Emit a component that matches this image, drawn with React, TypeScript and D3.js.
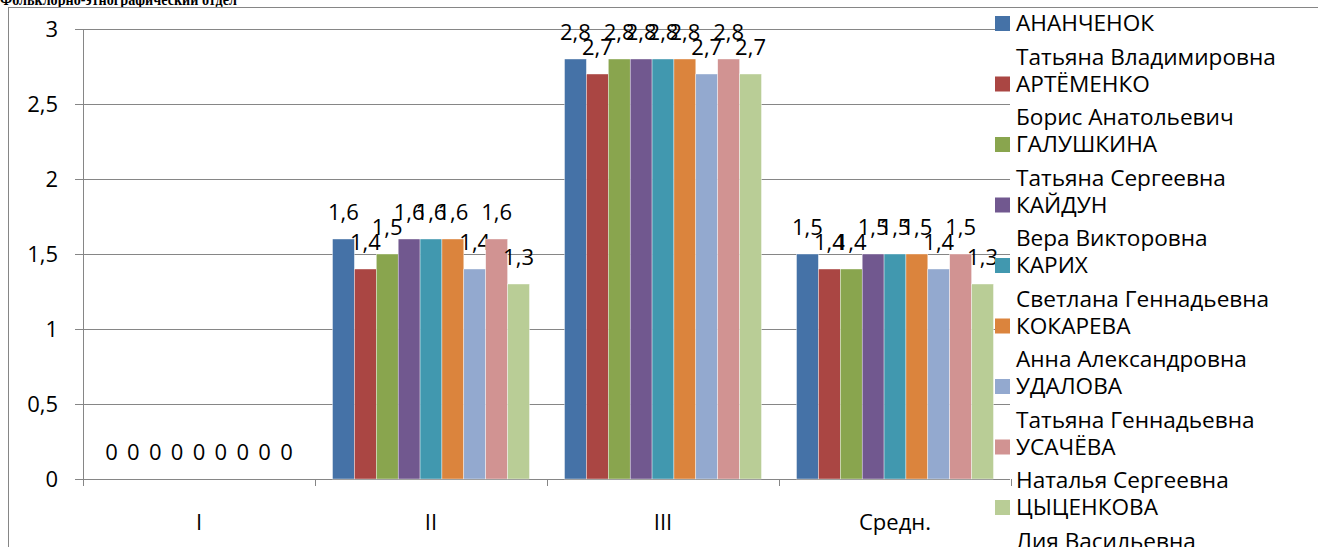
import * as d3 from 'd3';
import * as React from 'react';

const categories = ['I', 'II', 'III', 'Средн.'];
const surnames = ['АНАНЧЕНОК', 'АРТЁМЕНКО', 'ГАЛУШКИНА', 'КАЙДУН', 'КАРИХ', 'КОКАРЕВА', 'УДАЛОВА', 'УСАЧЁВА', 'ЦЫЦЕНКОВА'];
const givenNames = ['Татьяна Владимировна', 'Борис Анатольевич', 'Татьяна Сергеевна', 'Вера Викторовна', 'Светлана Геннадьевна', 'Анна Александровна', 'Татьяна Геннадьевна', 'Наталья Сергеевна', 'Лия Васильевна'];
const colors = ['#4572A7', '#AA4643', '#89A54E', '#71588F', '#4198AF', '#DB843D', '#93A9CF', '#D19392', '#B9CD96'];

// one array per category, in the order of the people above
const valuesI = [0, 0, 0, 0, 0, 0, 0, 0, 0];
const valuesII = [1.6, 1.4, 1.5, 1.6, 1.6, 1.6, 1.4, 1.6, 1.3];
const valuesIII = [2.8, 2.7, 2.8, 2.8, 2.8, 2.8, 2.7, 2.8, 2.7];
const valuesAvg = [1.5, 1.4, 1.4, 1.5, 1.5, 1.5, 1.4, 1.5, 1.3];
const yTicks = [0, 0.5, 1, 1.5, 2, 2.5, 3];

const title = 'Фольклорно-этнографический отдел';

const width = 1318;
const height = 547;
const plot = { left: 83, right: 1011, top: 29, bottom: 479 };
const font = '"Open Sans", sans-serif';
const fontSize = 22;
const legendFontSize = 22.6;
const grey = '#868686';

const fmt = (v: number) => String(v).replace('.', ',');

export default function App() {
    const table = [valuesI, valuesII, valuesIII, valuesAvg];

    const x0 = d3.scaleBand<string>()
        .domain(categories)
        .range([plot.left, plot.right])
        .padding(0);

    const x1 = d3.scaleBand<string>()
        .domain(surnames)
        .range([0, x0.bandwidth()])
        .paddingInner(0)
        .paddingOuter(0.8);

    const y = d3.scaleLinear()
        .domain([0, 3])
        .range([plot.bottom, plot.top]);

    const catEdges = categories.map(c => x0(c) as number).concat([plot.right]);

    return (
        <svg
            width={width}
            height={height}
            style={{ position: 'absolute', left: 0, top: 0, background: '#fff' }}
            fontFamily={font}
        >
            {/* title sits mostly above the picture, only its lower part shows */}
            <text x={0} y={4.5} fontFamily='"Liberation Serif", serif' fontWeight='bold' fontSize={16}
                textLength={237} lengthAdjust='spacingAndGlyphs'>{title}</text>
            <rect x={8.5} y={7.5} width={1400} height={600} fill='#fff' stroke={grey} strokeWidth={1} />

            {/* grid lines and y axis */}
            {yTicks.map(t => (
                <g key={t}>
                    <line x1={plot.left - 8} x2={plot.right - 1} y1={Math.round(y(t)) + 0.5} y2={Math.round(y(t)) + 0.5} stroke={grey} />
                    <text x={58} y={y(t) + 7.5} textAnchor='end' fontSize={fontSize}>{fmt(t)}</text>
                </g>
            ))}
            <line x1={plot.left + 0.5} x2={plot.left + 0.5} y1={plot.top} y2={plot.bottom + 7} stroke={grey} />
            {catEdges.slice(1).map((e, i) => (
                <line key={i} x1={Math.round(e) + 0.5} x2={Math.round(e) + 0.5} y1={plot.bottom} y2={plot.bottom + 7} stroke={grey} />
            ))}

            {/* bars */}
            {categories.map((c, ci) => (
                <g key={c} transform={`translate(${x0(c)},0)`}>
                    {surnames.map((s, si) => {
                        const v = table[ci][si];
                        const bx = x1(s) as number;
                        return (
                            <g key={s}>
                                {v > 0 && (
                                    <rect x={bx} y={y(v)} width={x1.bandwidth()} height={y(0) - y(v)} fill={colors[si]} stroke='#fff' strokeWidth={0.4} />
                                )}
                                <text x={bx + x1.bandwidth() / 2} y={y(v) - 19} textAnchor='middle' fontSize={fontSize}>{fmt(v)}</text>
                            </g>
                        );
                    })}
                </g>
            ))}

            {/* category labels */}
            {categories.map(c => (
                <text key={c} x={(x0(c) as number) + x0.bandwidth() / 2} y={530} textAnchor='middle' fontSize={fontSize}>{c}</text>
            ))}

            {/* legend */}
            {surnames.map((s, i) => {
                const cy = 23.5 + i * 60.5;
                return (
                    <g key={s}>
                        <rect x={995} y={cy - 7.5} width={15} height={15} fill={colors[i]} />
                        <text x={1016} y={cy + 7.8} fontSize={legendFontSize}>{s}</text>
                        <text x={1016} y={cy + 41} fontSize={legendFontSize}>{givenNames[i]}</text>
                    </g>
                );
            })}
        </svg>
    );
}
